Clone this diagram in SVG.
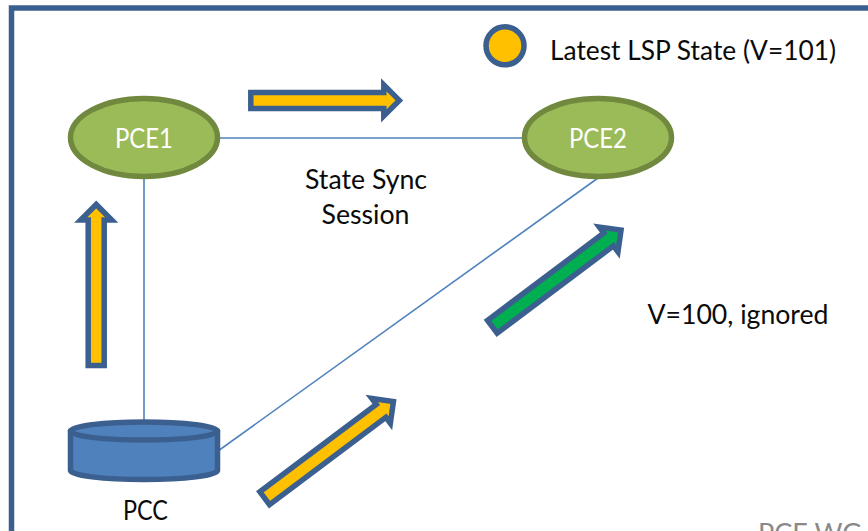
<svg xmlns="http://www.w3.org/2000/svg" width="868" height="531" viewBox="0 0 868 531">
  <style>
    text { font-family: Lato, "Open Sans", "Liberation Sans", sans-serif; font-size: 27px; fill: #0a0a0a; }
    .pce { fill: #9bbb59; stroke: #71893f; stroke-width: 5.5; }
    .label-w { fill: #ffffff; }
    .conn { fill: none; stroke: #4f81bd; stroke-width: 1.6; }
    .arrow { stroke: #3b6090; stroke-width: 5.5; stroke-miterlimit: 10; }
    .y { fill: #ffc000; }
    .g { fill: #00b050; }
  </style>
  <defs>
    <path id="a149" d="M0 -8H133V-15.5L148.5 0L133 15.5V8H0Z"/>
    <path id="a161" d="M0 -8H145.5V-15.5L161 0L145.5 15.5V8H0Z"/>
  </defs>
  <rect width="868" height="531" fill="#ffffff"/>
  <path id="frame" d="M11.5 531V8H868" fill="none" stroke="#3b6090" stroke-width="5.5"/>

  <g id="connectors">
    <line class="conn" x1="218" y1="138" x2="525" y2="138"/>
    <line class="conn" x1="144" y1="178" x2="144" y2="422"/>
    <line class="conn" x1="218" y1="451" x2="598" y2="178"/>
  </g>

  <g id="pce1">
    <ellipse class="pce" cx="144" cy="137.5" rx="73.5" ry="39"/>
    <text class="label-w" x="115" y="147.5" textLength="58" lengthAdjust="spacingAndGlyphs">PCE1</text>
  </g>
  <g id="pce2">
    <ellipse class="pce" cx="598" cy="137.5" rx="73.5" ry="39"/>
    <text class="label-w" x="569" y="147.5" textLength="58" lengthAdjust="spacingAndGlyphs">PCE2</text>
  </g>
  <g id="pcc">
    <path d="M70.5 431V470.5A73.5 9 0 0 0 217.5 470.5V431Z" fill="#4f81bd" stroke="#3b6090" stroke-width="5.5" stroke-linejoin="round"/>
    <ellipse cx="144" cy="431" rx="73.5" ry="9" fill="#4f81bd" stroke="#3b6090" stroke-width="5.5"/>
    <text x="123" y="520" textLength="45" lengthAdjust="spacingAndGlyphs">PCC</text>
  </g>

  <g id="arrow-pce1-pce2"><use href="#a149" class="arrow y" transform="translate(250.8 100.4)"/></g>
  <g id="arrow-pcc-pce1"><use href="#a161" class="arrow y" transform="translate(96.2 365.5) rotate(-90)"/></g>
  <g id="arrow-pcc-pce2"><use href="#a161" class="arrow y" transform="translate(264.7 498.2) rotate(-36.9)"/></g>
  <g id="arrow-ignored"><use href="#a161" class="arrow g" transform="translate(492.3 326.8) rotate(-36.9)"/></g>

  <g id="legend">
    <circle cx="505" cy="45.8" r="19" fill="#ffc000" stroke="#3b6090" stroke-width="5.5"/>
    <text x="550" y="60" textLength="286" lengthAdjust="spacingAndGlyphs">Latest LSP State (V=101)</text>
  </g>
  <text x="305" y="188.5" textLength="122" lengthAdjust="spacingAndGlyphs">State Sync</text>
  <text x="321.5" y="224" textLength="88" lengthAdjust="spacingAndGlyphs">Session</text>
  <text x="647.5" y="324.3" textLength="181" lengthAdjust="spacingAndGlyphs">V=100, ignored</text>
  <text x="758" y="543" style="fill:#898989" textLength="104" lengthAdjust="spacingAndGlyphs">PCE WG</text>
</svg>
